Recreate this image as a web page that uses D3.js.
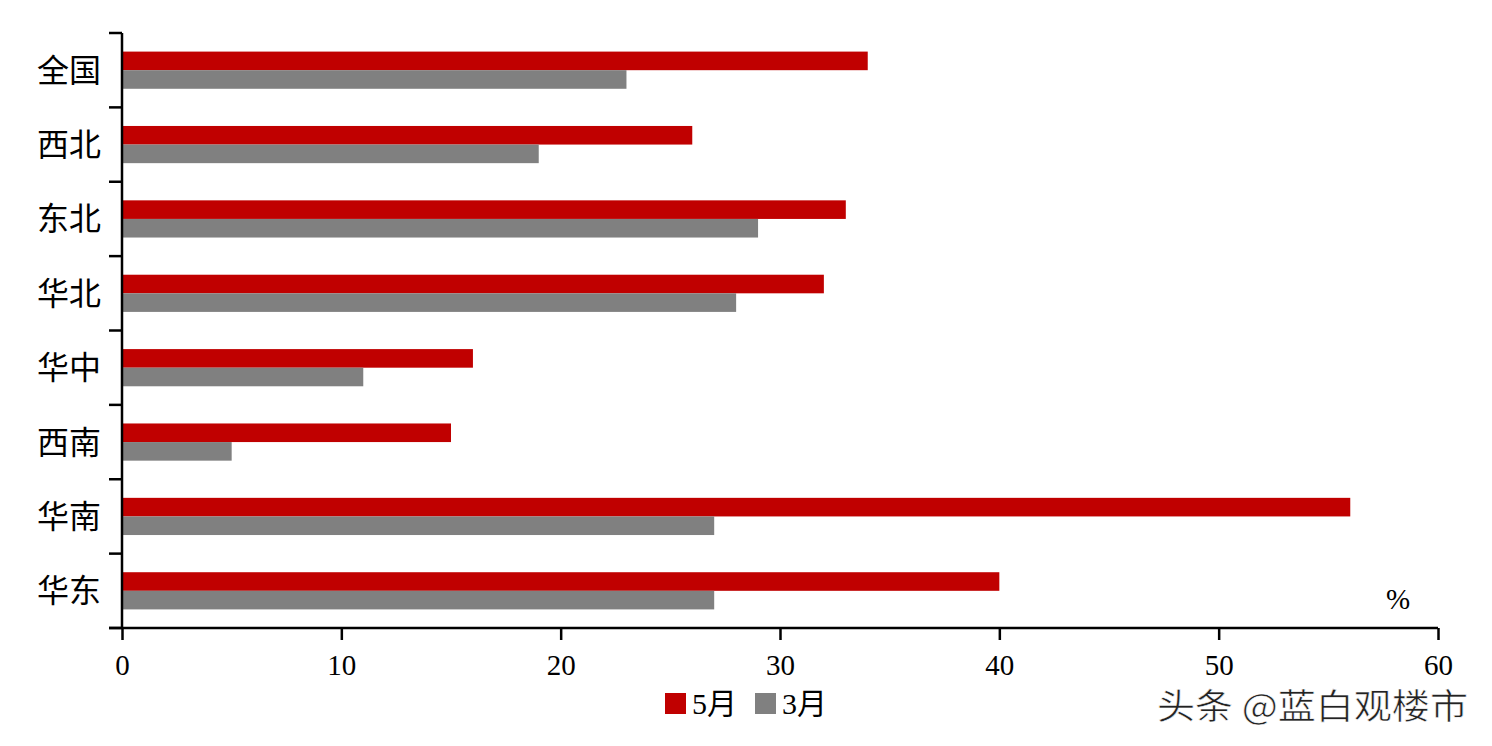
<!DOCTYPE html>
<html><head><meta charset="utf-8">
<script src="https://cdn.jsdelivr.net/npm/d3@7"></script>
<style>body{margin:0;background:#fff}</style>
</head><body>
<svg id="c" width="1492" height="746"></svg>
<script>
const categories = ["全国","西北","东北","华北","华中","西南","华南","华东"];
const may = [34,26,33,32,16,15,56,40];
const march = [23,19,29,28,11,5,27,27];
const xTicks = [0,10,20,30,40,50,60];
const seriesNames = ["5月","3月"];
const colors = ["#C00000","#808080"];

const svg = d3.select("#c");
const mLeft = 122, mRight = 1438, mTop = 33, mBottom = 628;
const x = d3.scaleLinear().domain([0,60]).range([mLeft,mRight]);
const y = d3.scaleBand().domain(categories).range([mTop,mBottom]).paddingInner(0.5).paddingOuter(0.25);
const y2 = d3.scaleBand().domain(seriesNames).range([0,y.bandwidth()]);
const serif = "'Liberation Serif','Times New Roman','Noto Sans CJK SC',serif";

const data = categories.map((c,i)=>({c, vals:[may[i],march[i]]}));
const g = svg.append("g");
data.forEach(d=>{
  d.vals.forEach((v,j)=>{
    g.append("rect").attr("x",x(0)).attr("y",y(d.c)+y2(seriesNames[j]))
     .attr("width",x(v)-x(0)).attr("height",y2.bandwidth()).attr("fill",colors[j]);
  });
});

// y axis
const step = (mBottom-mTop)/categories.length;
svg.append("line").attr("x1",mLeft).attr("x2",mLeft).attr("y1",mTop).attr("y2",mBottom).attr("stroke","#000").attr("stroke-width",2.5);
for(let i=0;i<=categories.length;i++){
  svg.append("line").attr("x1",mLeft-13).attr("x2",mLeft).attr("y1",mTop+i*step).attr("y2",mTop+i*step).attr("stroke","#000").attr("stroke-width",2.5);
}
categories.forEach(c=>{
  svg.append("text").attr("x",101).attr("y",y(c)+y.bandwidth()/2).attr("dy","0.36em")
    .attr("text-anchor","end").attr("font-family",serif).attr("font-size",32).attr("fill","#000").text(c);
});

// x axis
const xa = svg.append("g").attr("transform",`translate(0,${mBottom})`)
  .call(d3.axisBottom(x).tickValues(xTicks).tickSize(12).tickSizeOuter(0).tickPadding(14));
xa.select(".domain").attr("stroke","#000").attr("stroke-width",2.5).attr("d",`M${mLeft-13},0H${mRight}`);
xa.selectAll(".tick line").attr("stroke","#000").attr("stroke-width",2.5);
xa.selectAll(".tick text").attr("font-family",serif).attr("font-size",29).attr("fill","#000");

svg.append("text").attr("x",1398).attr("y",609).attr("text-anchor","middle").attr("font-family",serif).attr("font-size",29).text("%");

// legend
const lg = svg.append("g");
const lx = [665,755];
seriesNames.forEach((s,j)=>{
  lg.append("rect").attr("x",lx[j]).attr("y",693).attr("width",21).attr("height",21).attr("fill",colors[j]);
  lg.append("text").attr("x",lx[j]+27).attr("y",714).attr("font-family",serif).attr("font-size",30).attr("fill","#000").text(s);
});

// watermark
svg.append("text").attr("x",1157).attr("y",719).attr("font-family","'Noto Sans CJK SC',sans-serif")
  .attr("font-size",35).attr("fill","#222").attr("stroke","#fff").attr("stroke-width",0.6)
  .attr("textLength",311).attr("lengthAdjust","spacingAndGlyphs").text("头条 @蓝白观楼市");
</script>
</body></html>
